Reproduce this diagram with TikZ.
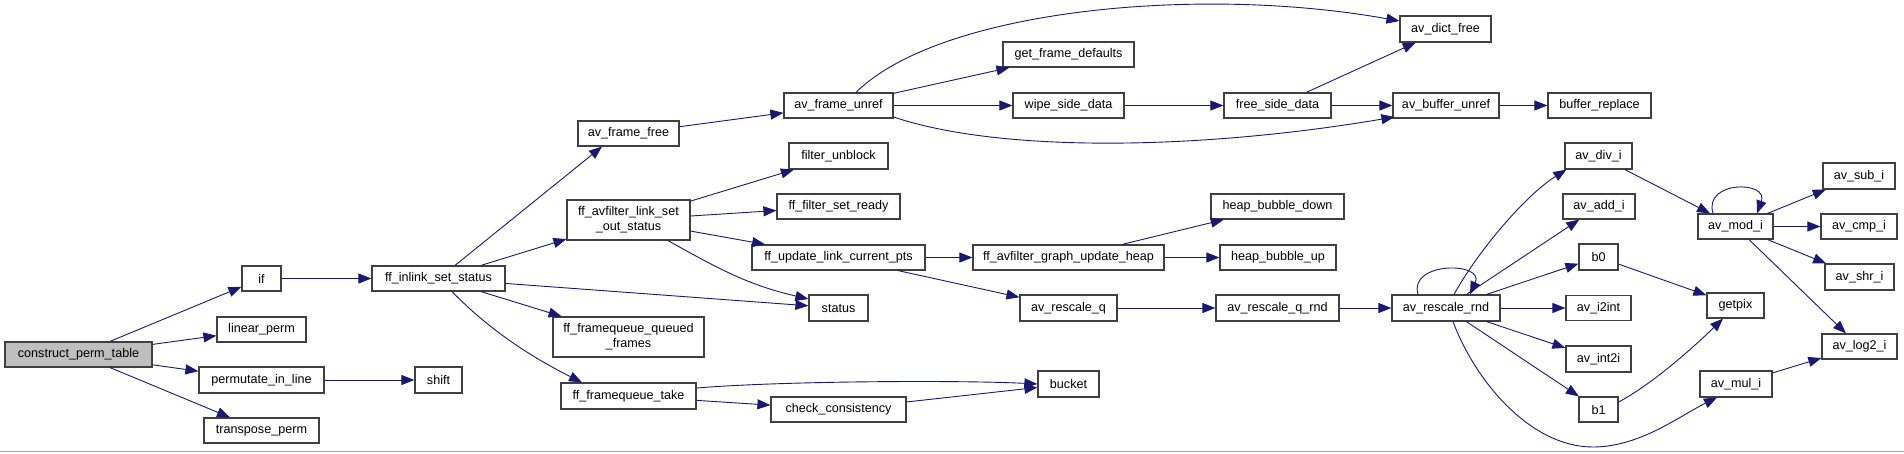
\documentclass[tikz,border=0pt]{standalone}
\usepackage{fontspec}
\setmainfont{Liberation Sans}
\usetikzlibrary{calc,arrows.meta}
\definecolor{edgec}{HTML}{191970}
\definecolor{boxc}{HTML}{404040}
\definecolor{grayfill}{HTML}{BFBFBF}
\begin{document}
\begin{tikzpicture}[x=1pt,y=1pt,
  fn/.style={draw=boxc, line width=1.2pt, fill=white, inner sep=0pt, font=\fontsize{12.6}{15}\selectfont, align=center},
  edge/.style={color=edgec, line width=0.9pt, -{Triangle[length=13pt,width=10pt]}},
]
\useasboundingbox (0,0) rectangle (1904,-453);
\fill[white] (0,0) rectangle (1904,-453);
\draw[black!35, line width=1.5pt] (0,-451.5) -- (1904,-451.5);

% nodes
\node[fn, fill=grayfill, minimum width=147pt, minimum height=25pt] (cpt) at (78.5,-354.5) {construct\_perm\_table};
\node[fn, minimum width=39pt, minimum height=25pt] (if) at (261.5,-278.5) {if};
\node[fn, minimum width=89pt, minimum height=25pt] (lp) at (261.5,-329.5) {linear\_perm};
\node[fn, minimum width=125pt, minimum height=26pt] (pil) at (261.5,-380) {permutate\_in\_line};
\node[fn, minimum width=47pt, minimum height=26pt] (shift) at (438.5,-380) {shift};
\node[fn, minimum width=115pt, minimum height=25pt] (tp) at (261.5,-430.5) {transpose\_perm};
\node[fn, minimum width=133pt, minimum height=25pt] (fis) at (438.5,-278.5) {ff\_inlink\_set\_status};
\node[fn, minimum width=101pt, minimum height=25pt] (aff) at (628.5,-133.5) {av\_frame\_free};
\node[fn, minimum width=123pt, minimum height=40pt] (falso) at (628.5,-220) {ff\_avfilter\_link\_set\\\_out\_status};
\node[fn, minimum width=151pt, minimum height=40pt] (ffqf) at (628.5,-337) {ff\_framequeue\_queued\\\_frames};
\node[fn, minimum width=135pt, minimum height=26pt] (fqt) at (628.5,-396) {ff\_framequeue\_take};
\node[fn, minimum width=109pt, minimum height=25pt] (afu) at (838.5,-105.5) {av\_frame\_unref};
\node[fn, minimum width=99pt, minimum height=26pt] (fu) at (838.5,-156) {filter\_unblock};
\node[fn, minimum width=123pt, minimum height=25pt] (fsr) at (838.5,-206.5) {ff\_filter\_set\_ready};
\node[fn, minimum width=173pt, minimum height=25pt] (fulcp) at (838.5,-257.5) {ff\_update\_link\_current\_pts};
\node[fn, minimum width=59pt, minimum height=26pt] (status) at (838.5,-308) {status};
\node[fn, minimum width=135pt, minimum height=25pt] (cc) at (838.5,-409.5) {check\_consistency};
\node[fn, minimum width=131pt, minimum height=25pt] (gfd) at (1068.5,-54.5) {get\_frame\_defaults};
\node[fn, minimum width=111pt, minimum height=25pt] (wsd) at (1068.5,-105.5) {wipe\_side\_data};
\node[fn, minimum width=191pt, minimum height=25pt] (fagu) at (1068.5,-257.5) {ff\_avfilter\_graph\_update\_heap};
\node[fn, minimum width=97pt, minimum height=26pt] (arq) at (1068.5,-308) {av\_rescale\_q};
\node[fn, minimum width=61pt, minimum height=26pt] (bucket) at (1068.5,-384) {bucket};
\node[fn, minimum width=107pt, minimum height=25pt] (fsd) at (1277.5,-105.5) {free\_side\_data};
\node[fn, minimum width=133pt, minimum height=25pt] (hbd) at (1277.5,-206.5) {heap\_bubble\_down};
\node[fn, minimum width=116pt, minimum height=25pt] (hbu) at (1278,-257.5) {heap\_bubble\_up};
\node[fn, minimum width=123pt, minimum height=26pt] (arqr) at (1277.5,-308) {av\_rescale\_q\_rnd};
\node[fn, minimum width=91pt, minimum height=26pt] (adf) at (1445.5,-29) {av\_dict\_free};
\node[fn, minimum width=106pt, minimum height=25pt] (abu) at (1446,-105.5) {av\_buffer\_unref};
\node[fn, minimum width=103pt, minimum height=25pt] (br) at (1599.5,-105.5) {buffer\_replace};
\node[fn, minimum width=108pt, minimum height=26pt] (arr) at (1446,-308) {av\_rescale\_rnd};
\node[fn, minimum width=67pt, minimum height=26pt] (adi) at (1598.5,-156) {av\_div\_i};
\node[fn, minimum width=72pt, minimum height=25pt] (aai) at (1599,-206.5) {av\_add\_i};
\node[fn, minimum width=39pt, minimum height=26pt] (b0) at (1598.5,-257) {b0};
\node[fn, minimum width=65pt, minimum height=25pt] (ai2) at (1598.5,-308) {av\_i2int};
\node[fn, minimum width=65pt, minimum height=26pt] (aint) at (1598.5,-359) {av\_int2i};
\node[fn, minimum width=39pt, minimum height=25pt] (b1) at (1598.5,-409.5) {b1};
\node[fn, minimum width=75pt, minimum height=25pt] (ami) at (1735.5,-226.5) {av\_mod\_i};
\node[fn, minimum width=57pt, minimum height=25pt] (gp) at (1735.5,-305.5) {getpix};
\node[fn, minimum width=72pt, minimum height=26pt] (amul) at (1736,-384) {av\_mul\_i};
\node[fn, minimum width=72pt, minimum height=26pt] (asi) at (1859,-176) {av\_sub\_i};
\node[fn, minimum width=76pt, minimum height=25pt] (acmp) at (1859,-226.5) {av\_cmp\_i};
\node[fn, minimum width=69pt, minimum height=26pt] (ashr) at (1859.5,-277) {av\_shr\_i};
\node[fn, minimum width=75pt, minimum height=25pt] (alog) at (1859.5,-346.5) {av\_log2\_i};
\coordinate (lowpt) at (1593,-447);

% edges
\draw[edge] (cpt) -- (if);
\draw[edge] (cpt) -- (lp);
\draw[edge] (cpt) -- (pil);
\draw[edge] (cpt) -- (tp);
\draw[edge] (if) -- (fis);
\draw[edge] (pil) -- (shift);
\draw[edge] ($(fis.north)+(16.5,0)$) -- ($(aff.south)+(-26.5,0)$);
\draw[edge] (fis) -- (falso);
\draw[edge] (fis) -- (status);
\draw[edge] (fis) -- (ffqf);
\draw[edge] ($(fis.south)+(13.5,0)$) .. controls +(38,-39) and +(-50,25) .. ($(fqt.north)+(-46.5,0)$);
\draw[edge] (aff) -- (afu);
\draw[edge] (falso) -- (fu);
\draw[edge] (falso) -- (fsr);
\draw[edge] (falso) -- (fulcp);
\draw[edge] ($(falso.south)+(39.5,0)$) .. controls +(52,-29) and +(-60,14) .. ($(status.west)+(0,9)$);
\draw[edge] ($(afu.north)+(17.5,0)$) .. controls +(84,83) and +(-200,36) .. ($(adf.west)+(0,8)$);
\draw[edge] (afu) -- (gfd);
\draw[edge] (afu) -- (wsd);
\draw[edge] ($(afu.east)+(0,-11.5)$) .. controls +(107,-36) and +(-195,-33) .. ($(abu.west)+(2,-11.5)$);
\draw[edge] (wsd) -- (fsd);
\draw[edge] (fsd) -- (adf);
\draw[edge] (fsd) -- (abu);
\draw[edge] (abu) -- (br);
\draw[edge] (fulcp) -- (fagu);
\draw[edge] (fulcp) -- (arq);
\draw[edge] (fagu) -- (hbd);
\draw[edge] (fagu) -- (hbu);
\draw[edge] (arq) -- (arqr);
\draw[edge] (arqr) -- (arr);
\draw[edge] ($(fqt.east)+(0,8)$) .. controls +(84,7) and +(-78,4) .. (bucket.west);
\draw[edge] (fqt) -- (cc);
\draw[edge] (cc) -- (bucket);
\draw[edge] ($(arr.north)+(-28,0)$) .. controls +(-10,33) and +(15,33) .. ($(arr.north)+(24,0)$);
\draw[edge] ($(arr.north)+(8,0)$) .. controls +(25,45) and +(-40,-25) .. ($(adi.south west)+(2,0)$);
\draw[edge] (arr) -- (aai);
\draw[edge] (arr) -- (b0);
\draw[edge] (arr) -- (ai2);
\draw[edge] (arr) -- (aint);
\draw[edge] (arr) -- (b1);
\draw[edge] ($(arr.south)+(7,0)$) .. controls +(22,-59) and +(-63,0) .. (lowpt) .. controls +(47,0) and +(-37,-18) .. ($(amul.south)+(-19,0)$);
\draw[edge] (adi) -- (ami);
\draw[edge] ($(ami.north)+(-22.5,0)$) .. controls +(-10,33) and +(12,33) .. ($(ami.north)+(21.5,0)$);
\draw[edge] (ami) -- (asi);
\draw[edge] (ami) -- (acmp);
\draw[edge] (ami) -- (ashr);
\draw[edge] (ami) -- (alog);
\draw[edge] (b0) -- (gp);
\draw[edge] ($(b1.east)+(0,7.5)$) .. controls +(32,17) and +(-33,-32) .. ($(gp.south)+(-12.5,0)$);
\draw[edge] (amul) -- (alog);
\end{tikzpicture}
\end{document}
